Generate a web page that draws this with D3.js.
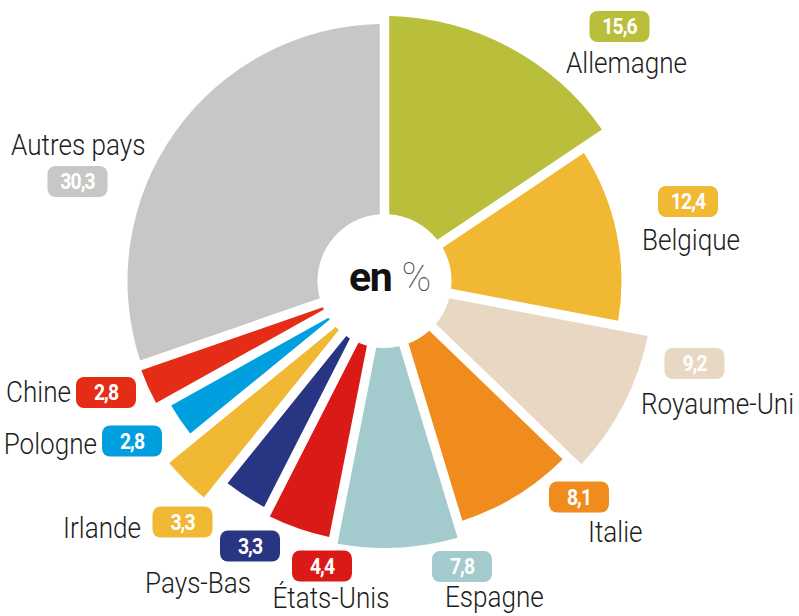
<!DOCTYPE html>
<html>
<head>
<meta charset="utf-8">
<script src="https://cdn.jsdelivr.net/npm/d3@7"></script>
<style>
  html, body { margin: 0; padding: 0; background: #ffffff; }
  svg { display: block; }
</style>
</head>
<body>
<svg id="chart" width="799" height="616"></svg>
<script>
// ---- data ----
const categories = ["Allemagne", "Belgique", "Royaume-Uni", "Italie", "Espagne", "États-Unis",
                    "Pays-Bas", "Irlande", "Pologne", "Chine", "Autres pays"];
const values = [15.6, 12.4, 9.2, 8.1, 7.8, 4.4, 3.3, 3.3, 2.8, 2.8, 30.3];
const centerLabel = ["en", "%"];

// ---- style ----
const colors = ["#b9be3b", "#f0b833", "#e8d8c3", "#f08c1e", "#a3cacd", "#da1a17",
                "#283583", "#f0b833", "#009fe0", "#e42c17", "#c8c7c6"];
const outerRadii = [265, 237, 269, 252, 267, 262, 256, 282, 247, 259, 257];

// ---- annotation layout (badge centre, name anchor) ----
const labelLayout = [
  { bx: 619.5, by: 26.5,  nx: 566,   ny: 73,    anchor: "start" },
  { bx: 688,   by: 201.5, nx: 642,   ny: 250,   anchor: "start" },
  { bx: 694.5, by: 363.5, nx: 641,   ny: 414,   anchor: "start" },
  { bx: 579,   by: 497,   nx: 588,   ny: 542,   anchor: "start" },
  { bx: 462,   by: 566.5, nx: 445,   ny: 607,   anchor: "start" },
  { bx: 322,   by: 566,   nx: 272.5, ny: 608,   anchor: "start" },
  { bx: 250,   by: 546,   nx: 145,   ny: 592.5, anchor: "start" },
  { bx: 182.5, by: 522,   nx: 141,   ny: 538,   anchor: "end" },
  { bx: 132,   by: 441,   nx: 97,    ny: 454,   anchor: "end" },
  { bx: 106,   by: 392.5, nx: 71,    ny: 402,   anchor: "end" },
  { bx: 77.5,  by: 181.5, nx: 11,    ny: 155,   anchor: "start" }
];

const W = 799, H = 616;
const cx = 384.5, cy = 281;
const innerR = 67;
const badgeW = 60, badgeH = 31;
const nameScale = 0.9;

const fr = d3.formatLocale({ decimal: ",", thousands: " ", grouping: [3], currency: ["", " €"] });
const fmt = fr.format(".1f");

const svg = d3.select("#chart");
const g = svg.append("g").attr("transform", `translate(${cx},${cy})`);

const pie = d3.pie().sort(null).value(d => d).startAngle(0).endAngle(2 * Math.PI);
const arcs = pie(values);

const arc = d3.arc()
  .innerRadius(innerR)
  .outerRadius(d => outerRadii[d.index])
  .padAngle(0.095)
  .padRadius(100);

g.selectAll("path.slice")
  .data(arcs)
  .join("path")
  .attr("class", "slice")
  .attr("d", arc)
  .attr("fill", d => colors[d.index]);

// centre label
const cl = g.append("g");
cl.append("text")
  .attr("x", -35.5).attr("y", 10)
  .attr("font-family", "Roboto, 'Noto Sans', sans-serif")
  .attr("font-weight", 700)
  .attr("font-size", 41)
  .attr("letter-spacing", -1.5)
  .attr("fill", "#111")
  .text(centerLabel[0]);
cl.append("text")
  .attr("x", 17).attr("y", 10)
  .attr("font-family", "Roboto, 'Noto Sans', sans-serif")
  .attr("font-weight", 100)
  .attr("font-size", 40)
  .attr("fill", "#555")
  .text(centerLabel[1]);

// labels
const lab = svg.append("g").attr("class", "labels");
categories.forEach((name, i) => {
  const L = labelLayout[i];
  lab.append("rect")
    .attr("x", L.bx - badgeW / 2).attr("y", L.by - badgeH / 2)
    .attr("width", badgeW).attr("height", badgeH)
    .attr("rx", 8).attr("ry", 8)
    .attr("fill", colors[i]);
  lab.append("text")
    .attr("transform", `translate(${L.bx},${L.by + 7.5}) scale(0.9,1)`)
    .attr("text-anchor", "middle")
    .attr("font-family", "Roboto, 'Noto Sans', sans-serif")
    .attr("font-weight", 700)
    .attr("font-size", 21.5)
    .attr("letter-spacing", -1)
    .attr("fill", "#ffffff")
    .text(fmt(values[i]));
  lab.append("text")
    .attr("transform", `translate(${L.nx},${L.ny}) scale(${nameScale},1)`)
    .attr("text-anchor", L.anchor)
    .attr("font-family", "Roboto, 'Noto Sans', sans-serif")
    .attr("font-weight", 300)
    .attr("font-size", 29)
    .attr("fill", "#1d1d1b")
    .text(name);
});
</script>
</body>
</html>
